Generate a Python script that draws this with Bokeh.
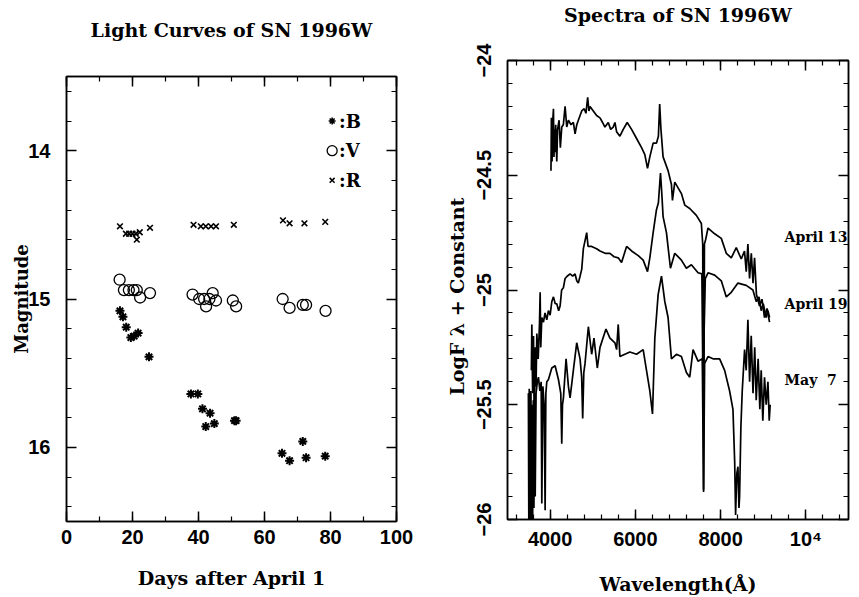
from bokeh.plotting import figure
from bokeh.models import Range1d, LinearAxis, SingleIntervalTicker, Label, ColumnDataSource, CustomJSTickFormatter
from bokeh.layouts import row
from bokeh.embed import file_html
from bokeh.resources import INLINE
from bokeh.core.properties import value
from jinja2 import Template

# ---------------- Light-curve data ----------------
days_B = [16.2, 17.1, 18.1, 19.5, 20.5, 21.7, 25.0, 37.7, 39.8, 41.2, 43.5, 42.2, 44.8, 50.9, 51.4, 65.3, 67.6, 71.6, 72.6, 78.4]
mag_B = [15.08, 15.12, 15.19, 15.26, 15.25, 15.23, 15.39, 15.64, 15.64, 15.74, 15.77, 15.86, 15.84, 15.82, 15.82, 16.04, 16.09, 15.96, 16.07, 16.06]

days_V = [16.1, 17.4, 18.9, 20.3, 21.3, 22.3, 25.3, 38.2, 40.2, 41.7, 43.3, 42.3, 44.3, 45.3, 50.4, 51.4, 65.5, 67.6, 71.6, 72.6, 78.5]
mag_V = [14.87, 14.94, 14.94, 14.94, 14.94, 14.99, 14.96, 14.97, 15.00, 15.00, 15.00, 15.05, 14.96, 15.01, 15.01, 15.05, 15.00, 15.06, 15.04, 15.04, 15.08]

days_R = [16.2, 18.0, 19.0, 20.0, 21.0, 22.2, 21.3, 25.3, 38.5, 40.7, 42.2, 43.8, 45.3, 50.7, 65.6, 67.6, 72.1, 78.4]
mag_R = [14.51, 14.56, 14.56, 14.56, 14.56, 14.55, 14.60, 14.52, 14.50, 14.51, 14.51, 14.51, 14.51, 14.50, 14.47, 14.49, 14.49, 14.48]

legend_names = [":B", ":V", ":R"]
legend_day = [80.5, 80.5, 80.5]
legend_text_day = [82.6, 82.6, 82.6]
legend_mag = [13.80, 14.00, 14.20]

# ---------------- Spectra data ----------------
wl_apr13 = [4020, 4030, 4045, 4060, 4078, 4090, 4105, 4117, 4130, 4156, 4175, 4210, 4240, 4273, 4310, 4351,
            4390, 4429, 4490, 4545, 4585, 4625, 4662, 4741, 4800, 4840, 4881, 4910, 4936, 5013, 5090, 5170,
            5230, 5286, 5364, 5420, 5481, 5520, 5559, 5637, 5715, 5808, 5911, 6028, 6145, 6222, 6285, 6339,
            6417, 6495, 6540, 6570, 6600, 6650, 6767, 6846, 6870, 6924, 7080, 7158, 7275, 7431, 7548, 7580,
            7600, 7620, 7649, 7704, 7860, 8016, 8133, 8250, 8367, 8484, 8560, 8601, 8640, 8679, 8720, 8760,
            8796, 8840, 8913, 8970, 9030, 9090, 9147]
flux_apr13 = [-24.48, -24.25, -24.44, -24.27, -24.21, -24.42, -24.30, -24.40, -24.28, -24.44, -24.30, -24.26,
              -24.38, -24.29, -24.28, -24.20, -24.29, -24.26, -24.28, -24.27, -24.32, -24.28, -24.26, -24.22,
              -24.21, -24.23, -24.16, -24.22, -24.20, -24.22, -24.24, -24.25, -24.27, -24.29, -24.27, -24.30,
              -24.29, -24.27, -24.31, -24.33, -24.30, -24.27, -24.30, -24.34, -24.38, -24.41, -24.47, -24.42,
              -24.36, -24.36, -24.33, -24.19, -24.30, -24.42, -24.48, -24.54, -24.61, -24.53, -24.58, -24.63,
              -24.645, -24.675, -24.71, -24.80, -25.87, -24.80, -24.78, -24.73, -24.755, -24.775, -24.84, -24.86,
              -24.815, -24.865, -24.83, -24.92, -24.80, -24.95, -24.84, -24.97, -24.86, -25.02, -25.07, -25.04,
              -25.12, -25.08, -25.14]

wl_apr19 = [3560, 3571, 3590, 3610, 3630, 3650, 3670, 3688, 3720, 3750, 3766, 3780, 3805, 3844, 3880, 3922,
            3960, 4000, 4040, 4078, 4120, 4156, 4200, 4234, 4270, 4312, 4351, 4400, 4468, 4530, 4585, 4625,
            4662, 4702, 4741, 4780, 4858, 4890, 4975, 5090, 5170, 5290, 5403, 5500, 5598, 5676, 5794, 5911,
            6067, 6183, 6285, 6339, 6417, 6495, 6540, 6589, 6620, 6650, 6729, 6823, 6924, 7080, 7197, 7314,
            7470, 7560, 7590, 7610, 7640, 7704, 7860, 8016, 8133, 8250, 8406, 8601, 8757, 8835, 8900, 8952,
            9000, 9069, 9110, 9147]
flux_apr19 = [-25.35, -25.15, -25.45, -25.20, -25.60, -25.25, -25.42, -25.19, -25.30, -25.15, -25.01, -25.25,
              -25.12, -25.14, -25.10, -25.13, -25.09, -25.11, -25.05, -25.03, -25.06, -25.06, -25.09, -25.07,
              -25.00, -24.99, -24.95, -24.94, -24.93, -24.94, -24.93, -24.96, -24.97, -24.94, -24.91, -24.82,
              -24.75, -24.81, -24.81, -24.82, -24.83, -24.84, -24.84, -24.855, -24.86, -24.88, -24.81, -24.83,
              -24.85, -24.87, -24.92, -24.86, -24.75, -24.65, -24.62, -24.49, -24.58, -24.68, -24.75, -24.905,
              -24.84, -24.87, -24.905, -24.89, -24.925, -24.93, -25.50, -25.20, -24.95, -24.925, -24.935, -24.96,
              -25.03, -25.01, -24.97, -24.98, -25.00, -25.05, -25.03, -25.09, -25.06, -25.12, -25.09, -25.12]

wl_may7 = [3490, 3500, 3510, 3520, 3530, 3540, 3550, 3560, 3575, 3590, 3605, 3620, 3635, 3650, 3670, 3700,
           3726, 3760, 3790, 3805, 3830, 3860, 3883, 3900, 3922, 3961, 4039, 4117, 4195, 4250, 4273, 4290,
           4312, 4374, 4429, 4468, 4545, 4624, 4702, 4740, 4764, 4790, 4819, 4897, 4975, 5029, 5107, 5170,
           5310, 5403, 5520, 5560, 5598, 5637, 5754, 5871, 6028, 6183, 6261, 6339, 6402, 6456, 6534, 6612,
           6690, 6767, 6846, 6963, 7080, 7197, 7275, 7353, 7470, 7570, 7600, 7625, 7704, 7821, 7977, 8094,
           8211, 8289, 8330, 8351, 8380, 8406, 8430, 8445, 8475, 8507, 8562, 8600, 8640, 8680, 8718, 8760,
           8800, 8835, 8880, 8920, 8952, 8990, 9030, 9069, 9110, 9140, 9163]
flux_may7 = [-25.45, -26.00, -25.43, -26.00, -25.50, -26.00, -25.44, -26.00, -25.50, -26.00, -25.48, -25.95,
             -25.45, -25.90, -25.45, -25.40, -25.38, -25.44, -25.40, -25.93, -25.42, -25.50, -25.96, -25.45,
             -25.40, -25.39, -25.34, -25.33, -25.39, -25.45, -25.67, -25.50, -25.47, -25.30, -25.42, -25.47,
             -25.35, -25.23, -25.30, -25.38, -25.56, -25.36, -25.32, -25.16, -25.28, -25.21, -25.34, -25.25,
             -25.17, -25.21, -25.23, -25.26, -25.15, -25.29, -25.28, -25.27, -25.28, -25.26, -25.35, -25.44,
             -25.54, -25.21, -25.02, -24.94, -25.05, -25.12, -25.30, -25.28, -25.29, -25.36, -25.38, -25.26,
             -25.31, -25.30, -25.88, -25.32, -25.29, -25.30, -25.30, -25.35, -25.44, -25.52, -25.75, -25.98,
             -25.80, -25.77, -25.95, -25.90, -25.60, -25.44, -25.26, -25.35, -25.13, -25.40, -25.20, -25.45,
             -25.25, -25.48, -25.30, -25.52, -25.35, -25.57, -25.38, -25.50, -25.40, -25.57, -25.50]

spec_names = ["April 13", "April 19", "May\u00a0\u00a07"]
spec_label_wl = [9500, 9500, 9500]
spec_label_flux = [-24.77, -25.06, -25.39]

titles = ["Light Curves of SN 1996W", "Spectra of SN 1996W"]

SERIF = "DejaVu Serif"
SANS = "Liberation Sans"


def style_main_axis(ax, font_size="20px", label_size="19px"):
    ax.axis_line_width = 1.5
    ax.major_tick_in = 10
    ax.major_tick_out = 0
    ax.minor_tick_in = 5
    ax.minor_tick_out = 0
    ax.major_tick_line_width = 1.5
    ax.minor_tick_line_width = 1.2
    ax.major_label_text_font = SANS
    ax.major_label_text_font_style = "bold"
    ax.major_label_text_font_size = font_size
    ax.major_label_text_color = "black"
    ax.axis_label_text_font = SERIF
    ax.axis_label_text_font_style = "bold"
    ax.axis_label_text_font_size = label_size
    ax.axis_label_text_color = "black"


def add_mirror_axis(p, ticker, side, label=None, label_standoff=0):
    ax = LinearAxis(ticker=ticker, formatter=CustomJSTickFormatter(code="return ''"))
    ax.axis_line_width = 1.5
    ax.major_tick_in = 10
    ax.major_tick_out = 0
    ax.minor_tick_in = 5
    ax.minor_tick_out = 0
    ax.major_tick_line_width = 1.5
    ax.minor_tick_line_width = 1.2
    ax.major_label_standoff = 0
    ax.axis_label = label
    if label is not None:
        ax.axis_label_standoff = label_standoff
        ax.axis_label_text_font = SERIF
        ax.axis_label_text_font_style = "bold"
        ax.axis_label_text_font_size = "19px"
        ax.axis_label_text_color = "black"
    p.add_layout(ax, side)


# ---------------- Left panel ----------------
p1 = figure(frame_width=330, frame_height=445,
            x_range=Range1d(0, 100), y_range=Range1d(16.5, 13.5),
            output_backend="svg", toolbar_location=None,
            min_border_left=66, min_border_right=20, min_border_top=76, min_border_bottom=74,
            background_fill_color="white", border_fill_color="white")
p1.grid.visible = False
p1.outline_line_color = "black"
p1.outline_line_width = 1.5

p1.xaxis.ticker = SingleIntervalTicker(interval=20, num_minor_ticks=2)
p1.yaxis.ticker = SingleIntervalTicker(interval=1, num_minor_ticks=5)
style_main_axis(p1.xaxis[0])
style_main_axis(p1.yaxis[0], label_size="18px")
p1.xaxis.axis_label = "Days after April 1"
p1.yaxis.axis_label = "Magnitude"
p1.xaxis.major_label_standoff = 8
p1.xaxis.axis_label_standoff = 20
p1.yaxis.major_label_standoff = 16
p1.yaxis.axis_label_standoff = -7
add_mirror_axis(p1, SingleIntervalTicker(interval=20, num_minor_ticks=2), "above", titles[0], 36)
add_mirror_axis(p1, SingleIntervalTicker(interval=1, num_minor_ticks=5), "right")

p1.scatter(days_B, mag_B, marker="asterisk", size=9, line_color="black", line_width=2)
p1.scatter(days_V, mag_V, marker="circle", size=11, fill_color=None, line_color="black", line_width=1.3)
p1.scatter(days_R, mag_R, marker="x", size=8, line_color="black", line_width=1.6)

p1.scatter(legend_day[0:1], legend_mag[0:1], marker="asterisk", size=7, line_color="black", line_width=1.6)
p1.scatter(legend_day[1:2], legend_mag[1:2], marker="circle", size=10, fill_color=None, line_color="black", line_width=1.3)
p1.scatter(legend_day[2:3], legend_mag[2:3], marker="x", size=7, line_color="black", line_width=1.5)
leg_src = ColumnDataSource(dict(x=legend_text_day, y=legend_mag, t=legend_names))
p1.text(x="x", y="y", text="t", source=leg_src, text_font=value(SERIF), text_font_style="bold",
        text_font_size="18px", text_baseline="middle", text_align="left", text_color="black")

# ---------------- Right panel ----------------
p2 = figure(frame_width=341, frame_height=459,
            x_range=Range1d(3000, 11000), y_range=Range1d(-26, -24),
            output_backend="svg", toolbar_location=None,
            min_border_left=91, min_border_right=11, min_border_top=60, min_border_bottom=76,
            background_fill_color="white", border_fill_color="white")
p2.grid.visible = False
p2.outline_line_color = "black"
p2.outline_line_width = 1.5

p2.xaxis.ticker = SingleIntervalTicker(interval=2000, num_minor_ticks=5)
p2.yaxis.ticker = SingleIntervalTicker(interval=0.5, num_minor_ticks=5)
style_main_axis(p2.xaxis[0])
style_main_axis(p2.yaxis[0])
p2.xaxis.major_label_overrides = {4000: "4000", 6000: "6000", 8000: "8000", 10000: "10\u2074"}
p2.yaxis.major_label_overrides = {-24: "\u221224", -24.5: "\u221224.5", -25: "\u221225",
                                  -25.5: "\u221225.5", -26: "\u221226"}
p2.yaxis.major_label_orientation = "vertical"
p2.xaxis.axis_label = "Wavelength(\u00c5)"
p2.yaxis.axis_label = "LogF \u03bb  +  Constant"
p2.xaxis.major_label_standoff = 8
p2.xaxis.axis_label_standoff = 20
p2.yaxis.major_label_standoff = 17
p2.yaxis.axis_label_standoff = 6
add_mirror_axis(p2, SingleIntervalTicker(interval=2000, num_minor_ticks=5), "above", titles[1], 35)
add_mirror_axis(p2, SingleIntervalTicker(interval=0.5, num_minor_ticks=5), "right")

p2.line(wl_apr13, flux_apr13, line_color="black", line_width=1.7)
p2.line(wl_apr19, flux_apr19, line_color="black", line_width=1.7)
p2.line(wl_may7, flux_may7, line_color="black", line_width=1.7)

for name, xw, yf in zip(spec_names, spec_label_wl, spec_label_flux):
    p2.add_layout(Label(x=xw, y=yf, text=name, text_font=SERIF, text_font_style="bold",
                        text_font_size="14px", text_baseline="middle", text_align="left",
                        text_color="black"))

# The two panels are written as two independent roots placed side by side,
# so that Bokeh does not force their frames to share the same top edge.
PAGE = Template("""{% extends base %}
{% block postamble %}<style>
html { overflow: hidden; }
body { display: flex; flex-direction: row; flex-wrap: nowrap; align-items: flex-start; }
body > *, body > * > * { flex-shrink: 0; }
</style>{% endblock %}""")
try:
    html = file_html([p1, p2], INLINE, template=PAGE)
except Exception:
    html = file_html(row(p1, p2), INLINE)
open("out.html", "w").write(html)
